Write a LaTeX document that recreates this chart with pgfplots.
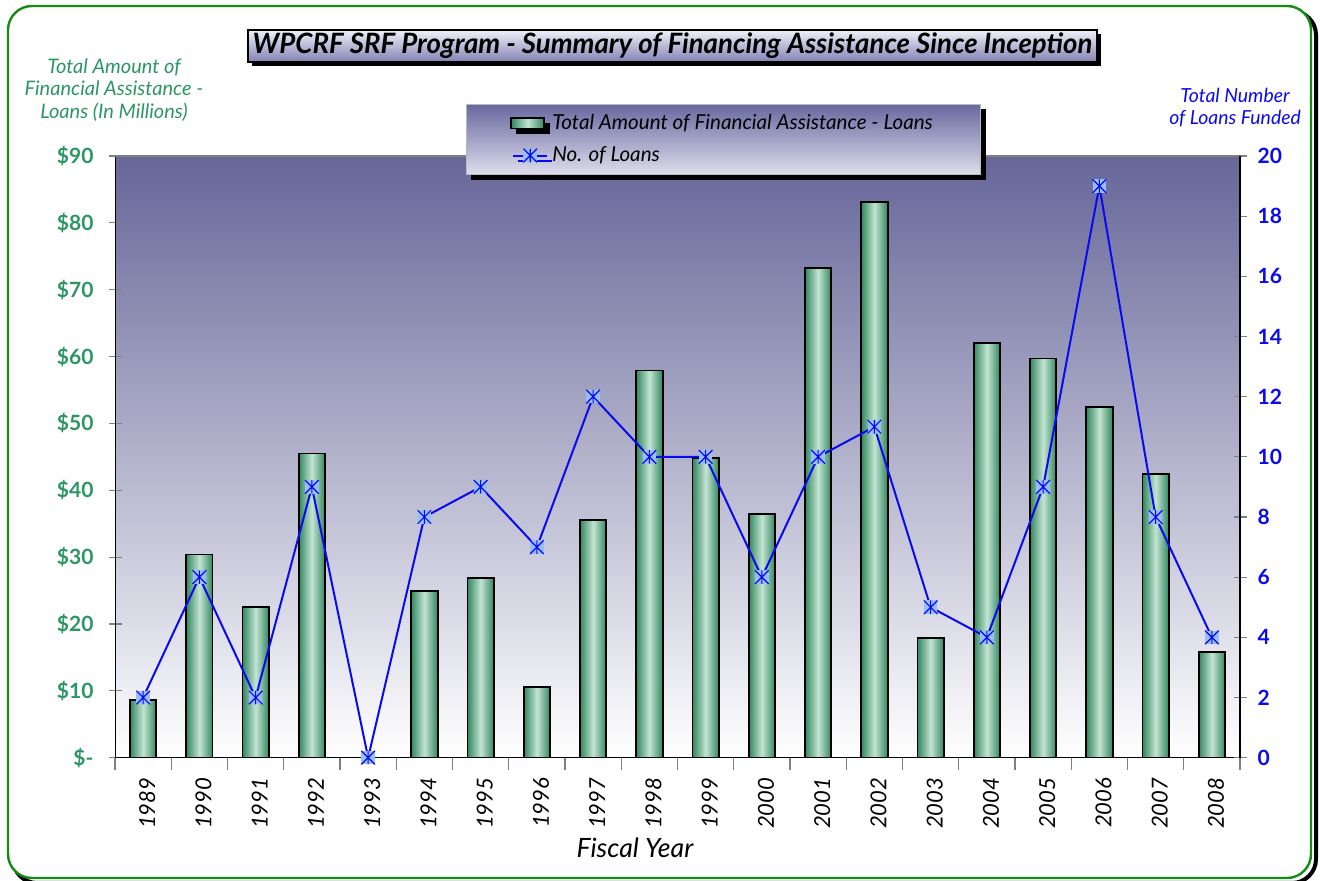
\documentclass[border=0pt]{standalone}
\usepackage{fontspec}
\setmainfont{Lato}
\usepackage{pgfplots}
\usepackage{pgfplotstable}
\pgfplotsset{compat=1.18}
\usetikzlibrary{shadows}

\definecolor{bgtop}{RGB}{102,102,153}
\definecolor{bardark}{RGB}{50,135,95}
\definecolor{barlight}{RGB}{195,228,210}
\definecolor{lgreen}{RGB}{44,150,100}
\definecolor{lblue}{RGB}{10,10,240}
\definecolor{markfill}{RGB}{150,190,255}
\definecolor{legtop}{RGB}{104,104,160}
\definecolor{legbot}{RGB}{222,222,236}
\definecolor{titletop}{RGB}{240,240,248}
\definecolor{titlebot}{RGB}{130,130,180}
\definecolor{bordergreen}{RGB}{20,140,20}

\pgfdeclareplotmark{xstar}{%
  \pgfpathrectangle{\pgfpoint{-\pgfplotmarksize}{-\pgfplotmarksize}}{\pgfpoint{2\pgfplotmarksize}{2\pgfplotmarksize}}%
  \pgfsetfillcolor{markfill}\pgfusepathqfill
  \pgfpathmoveto{\pgfpoint{-\pgfplotmarksize}{-\pgfplotmarksize}}\pgfpathlineto{\pgfpoint{\pgfplotmarksize}{\pgfplotmarksize}}%
  \pgfpathmoveto{\pgfpoint{-\pgfplotmarksize}{\pgfplotmarksize}}\pgfpathlineto{\pgfpoint{\pgfplotmarksize}{-\pgfplotmarksize}}%
  \pgfpathmoveto{\pgfpoint{0pt}{-\pgfplotmarksize}}\pgfpathlineto{\pgfpoint{0pt}{\pgfplotmarksize}}%
  \pgfusepathqstroke
}

\pgfplotstableread{
x amount loans
0 8.6 2
1 30.4 6
2 22.5 2
3 45.5 9
4 0 0
5 24.9 8
6 26.9 9
7 10.6 7
8 35.5 12
9 57.9 10
10 44.8 10
11 36.4 6
12 73.3 10
13 83.1 11
14 17.9 5
15 62.0 4
16 59.7 9
17 52.5 19
18 42.4 8
19 15.8 4
}\datatable

\begin{document}
\begin{tikzpicture}
\useasboundingbox (0,0) rectangle (660pt,440.5pt);
\begin{scope}[x=0.5pt,y=0.5pt]
\draw[black, line width=2pt, rounded corners=12pt] (13,-2) rectangle (1316,870);
\draw[bordergreen, line width=1.2pt, rounded corners=12pt, fill=white] (8,3) rectangle (1311,875);
\end{scope}

\begin{axis}[
  at={(57.5pt,61.65pt)}, anchor=south west, scale only axis,
  width=562.5pt, height=300.85pt,
  xmin=-0.5, xmax=19.5, ymin=0, ymax=90,
  axis line style={draw=none},
  axis background/.style={top color=bgtop, bottom color=white},
  xtick={0,...,19},
  xticklabels={1989,1990,1991,1992,1993,1994,1995,1996,1997,1998,1999,2000,2001,2002,2003,2004,2005,2006,2007,2008},
  major x tick style={draw=none},
  minor xtick={-0.5,0.5,...,19.5},
  ytick={0,10,...,90},
  yticklabels={\$-,\$10,\$20,\$30,\$40,\$50,\$60,\$70,\$80,\$90},
  tick style={gray, line width=0.6pt}, tick align=center,
  major tick length=6.5pt, minor tick length=6pt,
  xtick pos=bottom, ytick pos=left,
  xticklabel style={rotate=90, anchor=east, font=\itshape\fontsize{11}{11}\selectfont, yshift=-2pt},
  yticklabel style={font=\bfseries\fontsize{10.5}{10.5}\selectfont, text=lgreen, xshift=-4pt},
  /pgf/number format/assume math mode=true,
  ybar, bar width=0.47,
]
\pgfplotsinvokeforeach{0,...,19}{
\addplot[bar shift=0pt, draw=black, line width=0.9pt, left color=bardark, right color=bardark, middle color=barlight] table[x=x,y=amount, restrict x to domain=#1:#1]{\datatable};
}
\draw[black, line width=1pt] (rel axis cs:0,1) -- (rel axis cs:0,0) -- (rel axis cs:1,0);
\draw[gray, line width=1pt] (rel axis cs:0,1) -- (rel axis cs:1,1);
\end{axis}

\begin{axis}[
  at={(57.5pt,61.65pt)}, anchor=south west, scale only axis,
  width=562.5pt, height=300.85pt,
  xmin=-0.5, xmax=19.5, ymin=0, ymax=20,
  axis x line=none, axis y line*=right,
  y axis line style={black, line width=1pt},
  ytick={0,2,...,20},
  tick style={gray, line width=0.6pt}, tick align=center, major tick length=6.5pt,
  yticklabel style={font=\bfseries\fontsize{10.5}{10.5}\selectfont, text=lblue, xshift=2pt},
  /pgf/number format/assume math mode=true,
  clip=false,
  legend style={at={(0.312,1.0864)}, anchor=north west,
    top color=legtop, bottom color=legbot, draw=legbot!60!gray, line width=0.4pt,
    drop shadow={shadow xshift=2.5pt, shadow yshift=-2.5pt, fill=black, opacity=1},
    font=\itshape\fontsize{10.3}{11}\selectfont, inner xsep=22pt, inner ysep=3pt,
    row sep=3pt},
  legend cell align=left,
]
\addlegendimage{legend image code/.code={\draw[black, line width=0.8pt, left color=bardark, right color=bardark, middle color=barlight] (-1pt,-2.6pt) rectangle (15.5pt,2.6pt);}}
\addlegendentry{Total Amount of Financial Assistance - Loans}
\addplot[lblue, line width=1pt, mark=xstar, mark size=3.4pt, mark options={line width=0.6pt}] table[x=x,y=loans]{\datatable};
\addlegendentry{No. of Loans}
\end{axis}

\node[draw=black, line width=1pt, top color=titletop, bottom color=titlebot,
  drop shadow={shadow xshift=2pt, shadow yshift=-2pt, fill=black, opacity=1},
  minimum width=424.5pt, minimum height=16pt, inner sep=0pt]
  at (336.25pt,417.5pt) {\scalebox{0.985}[1]{\bfseries\itshape\fontsize{14}{14}\selectfont WPCRF SRF Program - Summary of Financing Assistance Since Inception}};

\node[align=center, font=\itshape\fontsize{10}{11.25}\selectfont, text=lgreen] at (57pt,395.5pt) {Total Amount of\\Financial Assistance -\\Loans (In Millions)};
\node[align=center, font=\itshape\fontsize{9.7}{11}\selectfont, text=lblue] at (617.5pt,386.5pt) {Total Number\\of Loans Funded};
\node[font=\itshape\fontsize{13.3}{13.3}\selectfont] at (317.5pt,16.5pt) {Fiscal Year};
\end{tikzpicture}
\end{document}
